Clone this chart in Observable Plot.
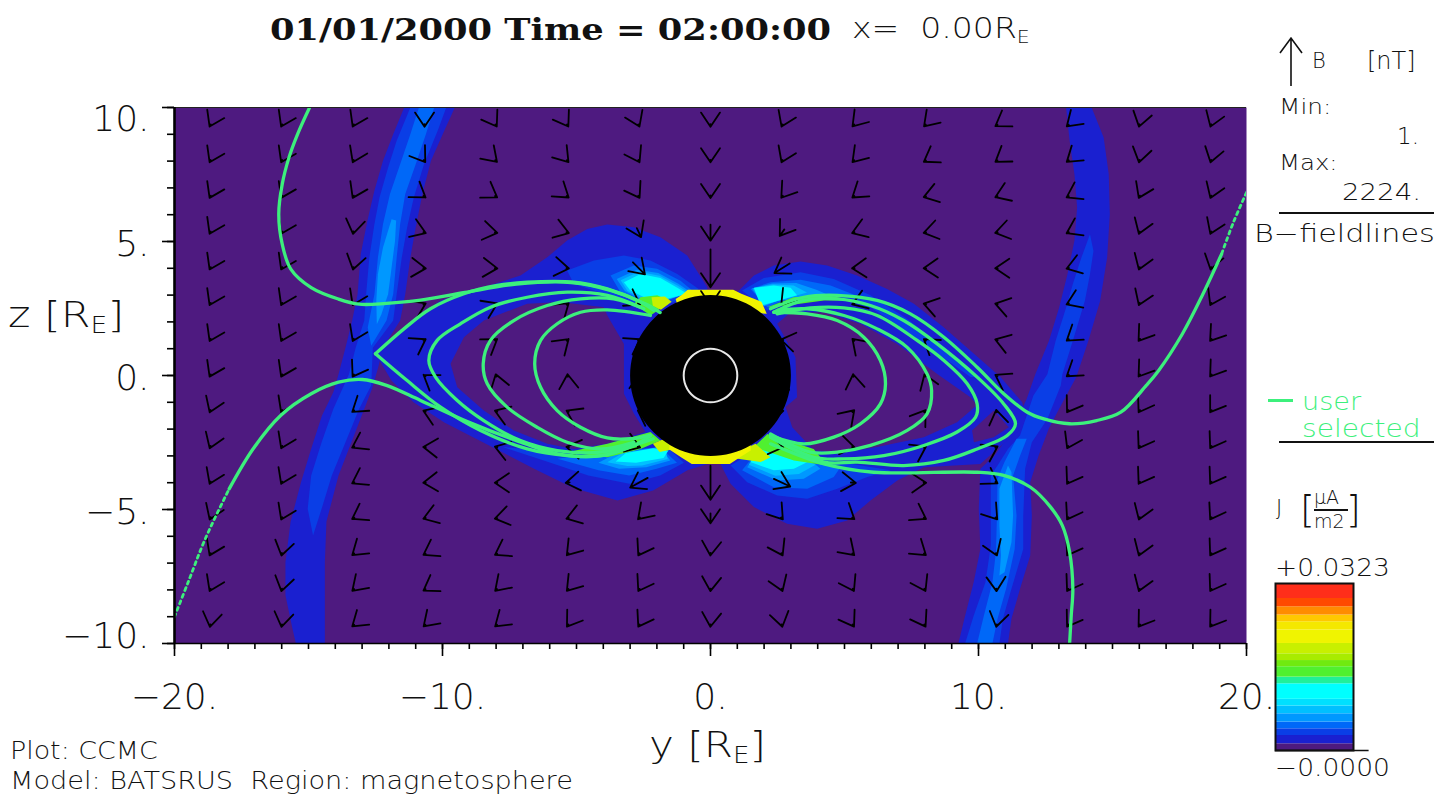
<!DOCTYPE html>
<html>
<head>
<meta charset="utf-8">
<script src="https://cdn.jsdelivr.net/npm/d3@7"></script>
<script src="https://cdn.jsdelivr.net/npm/@observablehq/plot@0.6"></script>
<style>
html,body{margin:0;padding:0;background:#fff;width:1450px;height:799px;overflow:hidden}
#stage{position:relative;width:1450px;height:799px;font-family:"DejaVu Sans",sans-serif;color:#111}
#chart,#bar{position:absolute}
#chart{left:0;top:0}
#bar{left:1265px;top:575px}
.t{position:absolute;white-space:pre;line-height:1;font-weight:200;transform-origin:left top}
sub{font-size:.62em;vertical-align:baseline;position:relative;top:.28em}
.g{color:#3cf07c}
.rule{position:absolute;height:2px;background:#111}
</style>
</head>
<body>
<div id="stage">
  <div id="chart"></div>
  <div id="bar"></div>
  <div class="t" style="left:270px;top:13px;font:bold 29px 'DejaVu Serif',serif;transform:scaleX(1.216)">01/01/2000 Time = 02:00:00</div>
  <div class="t" style="left:852px;top:14px;font-size:29px;transform:scaleX(1.14)">x=  0.00R<sub>E</sub></div>
  <div class="t" style="left:8px;top:297px;font-size:36px;transform:scaleX(1.19)">z [R<sub>E</sub>]</div>
  <div class="t" style="left:649px;top:727px;font-size:36px;transform:scaleX(1.17)">y [R<sub>E</sub>]</div>
  <div class="t" style="left:10px;top:739px;font-size:24px;transform:scaleX(1.12)">Plot: CCMC</div>
  <div class="t" style="left:10px;top:769px;font-size:24px;transform:scaleX(1.13)">Model: BATSRUS  Region: magnetosphere</div>
  <svg style="position:absolute;left:1278px;top:36px" width="26" height="52"><path d="M13 50V2M2 17L13 2L24 17" fill="none" stroke="#111" stroke-width="1.6"/></svg>
  <div class="t" style="left:1312px;top:51px;font-size:21px">B</div>
  <div class="t" style="left:1367px;top:49px;font-size:24px">[nT]</div>
  <div class="t" style="left:1279px;top:97px;font-size:21px;transform:scaleX(1.18)">Min:</div>
  <div class="t" style="left:1397px;top:125px;font-size:23px">1.</div>
  <div class="t" style="left:1279px;top:153px;font-size:21px;transform:scaleX(1.16)">Max:</div>
  <div class="t" style="left:1342px;top:181px;font-size:23px;transform:scaleX(1.2)">2224.</div>
  <div class="rule" style="left:1279px;top:212px;width:155px"></div>
  <div class="t" style="left:1254px;top:221px;font-size:25px;transform:scaleX(1.21)">B−fieldlines</div>
  <div class="rule" style="left:1268px;top:399px;width:25px;height:3px;background:#3cf07c"></div>
  <div class="t g" style="left:1302px;top:390px;font-size:24px;transform:scaleX(1.13)">user</div>
  <div class="t g" style="left:1302px;top:417px;font-size:24px;transform:scaleX(1.17)">selected</div>
  <div class="rule" style="left:1279px;top:441px;width:155px"></div>
  <div class="t" style="left:1276px;top:498px;font-size:21px">J</div>
  <div class="t" style="left:1300px;top:490px;font-size:38px">[</div>
  <div class="t" style="left:1314px;top:488px;font-size:19px">μA</div>
  <div class="rule" style="left:1314px;top:509px;width:34px"></div>
  <div class="t" style="left:1314px;top:512px;font-size:19px">m2</div>
  <div class="t" style="left:1346px;top:490px;font-size:38px">]</div>
  <div class="t" style="left:1275px;top:555px;font-size:25px;transform:scaleX(1.06)">+0.0323</div>
  <div class="t" style="left:1275px;top:755px;font-size:25px;transform:scaleX(1.06)">−0.0000</div>
</div>
<script>
// ---- axes
const yMinorTicks = d3.range(-20, 21);
const yMajorTicks = [-20, -10, 0, 10, 20];
const zMinorTicks = d3.range(-10, 11);
const zMajorTicks = [-10, -5, 0, 5, 10];

// ---- J colour table (colour bar)
const jEdges = [0.0013,0.0029,0.0042,0.0055,0.0071,0.0086,0.0099,0.0129,0.0142,0.0162,0.0174,0.0187,0.0207,0.0233,0.0249,0.0262,0.0278,0.0294];
const jColors = ["#4e1a80","#1a20d0","#0a3ee6","#0068f8","#0098ff","#00c0ff","#00e0ff","#00ffff","#20f09a","#50f030","#70ea10","#a8ec00","#c8f000","#f0f400","#f4e800","#ffc800","#ff8c00","#ff4a00","#ff2e1a"];
const jMax = 0.0323;

// ---- arrow field: direction (deg clockwise from north), rows z=+9.33..-9.33, columns y=-18.67..+18.67
const arrowRowsZ = [9.33,8,6.67,5.33,4,2.67,1.33,0,-1.33,-2.67,-4,-5.33,-6.67,-8,-9.33];
const arrowColsY = [-18.67,-16,-13.33,-10.67,-8,-5.33,-2.67,0,2.67,5.33,8,10.67,13.33,16,18.67];
const arrowDirections = [
 [206,206,206,180,148,148,156,180,204,221,223,237,228,195,200],
 [206,206,205,145,135,140,151,180,204,222,238,235,231,193,196],
 [206,206,206,125,123,128,149,180,217,232,253,248,242,205,201],
 [206,206,190,111,100,108,155,180,215,250,257,257,243,200,203],
 [206,206,194,94,94,98,135,180,238,268,269,270,252,200,195],
 [206,206,205,65,65,50,120,180,220,250,285,285,247,202,207],
 [206,206,205,60,55,48,60,180,280,315,307,288,233,216,217],
 [206,206,212,305,343,355,0,0,10,352,340,300,233,216,216],
 [202,205,232,292,290,297,300,180,80,44,35,350,213,212,214],
 [201,205,242,274,288,280,110,180,100,100,62,62,207,212,212],
 [204,205,241,266,270,262,241,180,115,95,89,122,212,212,212],
 [202,205,240,251,258,252,224,180,142,127,120,142,211,200,211],
 [205,193,230,240,240,220,211,185,152,134,129,159,212,200,212],
 [205,193,226,238,225,220,211,185,159,151,152,178,212,200,212],
 [190,190,230,226,229,215,211,185,167,148,149,192,213,215,215]
];
// arrows with a visible shaft: [row, column, shaft]
const longArrows = [[3,6,10],[3,7,16],[3,8,8],[4,6,17],[4,7,38],[4,8,18],[10,5,4],[10,6,20],[10,7,34],[10,8,18],[10,9,5],[11,7,10]];
const baseShaft = 2.5;

// ---- current density regions, [y,z] in R_E
const sheetWestL1 = [[-11.43,10],[-11.84,9],[-12.22,8.01],[-12.54,6.9],[-12.8,5.78],[-13.05,4.53],[-13.17,3.03],[-13.37,2.05],[-13.62,1.04],[-13.88,.05],[-14.07,-.62],[-14.5,-1.5],[-14.9,-2.73],[-15.28,-3.98],[-15.67,-5.47],[-15.86,-6.97],[-15.86,-8.2],[-15.6,-9.44],[-15.47,-10],[-14.39,-10],[-14.39,-6.97],[-14.33,-5.45],[-13.88,-3.73],[-13.25,-2.11],[-12.63,-.49],[-12.4,.3],[-12.22,1.04],[-11.58,2.05],[-11.39,3.03],[-11.2,4.4],[-11,5.52],[-10.75,6.77],[-10.43,8.01],[-9.93,9.14],[-9.54,10]];
const sheetWestL2 = [[-11.2,10],[-11.71,8.76],[-12.03,7.76],[-12.35,6.64],[-12.54,5.65],[-12.73,4.4],[-12.85,3.03],[-12.92,2.05],[-13.24,1.04],[-13.49,.05],[-14.07,-1.24],[-14.51,-2.49],[-14.9,-3.73],[-15.03,-4.97],[-14.83,-5.97],[-14.51,-4.97],[-14.13,-3.73],[-13.62,-2.49],[-13.11,-1.24],[-12.66,-.37],[-12.6,1.04],[-11.84,2.05],[-11.71,3.03],[-11.52,4.4],[-11.32,5.52],[-11.07,6.64],[-10.69,7.88],[-10.18,9.13],[-9.86,10]];
const sheetWestL3 = [[-10.88,10],[-11.2,9],[-11.58,7.88],[-11.96,6.77],[-12.22,5.65],[-12.41,4.4],[-12.54,3.03],[-12.79,1.79],[-12.66,1.11],[-12.09,2.05],[-11.84,3.03],[-11.71,4.4],[-11.58,5.65],[-11.39,6.77],[-11,7.88],[-10.62,9],[-10.31,10]];
const sheetWestL4 = [[-11.9,5.83],[-12.22,4.78],[-12.41,3.78],[-12.47,2.8],[-12.45,1.91],[-12.28,2.29],[-12.03,3.03],[-11.9,4.03],[-11.77,5.04],[-11.73,5.78]];
const sheetEastL1 = [[13.27,10],[13.4,8.76],[13.58,7.51],[13.68,6.27],[13.58,5.03],[13.32,3.78],[13.01,2.54],[12.63,1.3],[12.12,.05],[11.8,-.87],[11.23,-2.11],[10.59,-2.99],[10.07,-3.48],[10.01,-4.98],[10.07,-6.47],[9.82,-7.71],[9.5,-8.96],[9.25,-10],[11.1,-10],[11.23,-9.08],[11.55,-7.96],[11.93,-6.72],[11.99,-5.22],[11.93,-3.98],[12.24,-2.99],[12.63,-1.97],[13.01,-1.24],[13.65,-.06],[14.1,1.3],[14.54,2.79],[14.8,4.4],[14.9,6.02],[14.86,7.51],[14.67,8.88],[14.22,10]];
const sheetEastL2 = [[14.16,5.27],[13.84,4.4],[13.52,3.41],[13.27,2.54],[12.88,1.3],[12.57,.05],[12.05,-.75],[11.55,-2.24],[11.1,-2.74],[10.71,-3.36],[10.46,-3.73],[10.46,-5.22],[10.46,-6.34],[10.26,-7.71],[9.82,-8.96],[9.5,-10],[10.78,-10],[10.91,-9.08],[11.23,-7.96],[11.67,-6.47],[11.67,-5.22],[11.74,-3.48],[11.99,-2.49],[12.57,-1.62],[13.07,-.37],[13.13,.05],[13.52,1.3],[13.97,2.79],[14.16,3.78],[14.29,4.65]];
const sheetEastL3 = [[11.42,-2.36],[10.97,-3.23],[10.71,-3.85],[10.69,-5.22],[10.65,-6.59],[10.52,-7.71],[10.2,-8.96],[9.95,-10],[10.52,-10],[10.71,-9.08],[11.03,-7.96],[11.35,-6.47],[11.42,-5.22],[11.29,-3.73],[11.55,-2.99],[11.8,-2.36]];
const sheetEastL4 = [[11.1,-3.36],[10.78,-4.23],[10.78,-5.6],[10.84,-6.72],[10.78,-7.46],[10.97,-7.34],[11.23,-6.22],[11.29,-5.22],[11.23,-3.6]];
const westBlobL1 = [[-12.5,.81],[-11.44,1.8],[-10.07,2.8],[-8.46,3.29],[-7.09,3.73],[-6.09,4.41],[-5.35,5.04],[-4.6,5.47],[-3.85,5.63],[-2.86,5.53],[-1.87,5.16],[-.87,4.48],[-.12,3.29],[-.1,0],[-.1,-3.3],[-.86,-3.54],[-2.14,-4.29],[-3.47,-4.66],[-5.12,-4.2],[-6.6,-3.47],[-8.26,-2.61],[-9.93,-1.75],[-11.08,-1],[-11.9,-.2]];
const westPocket = [[-9.7,.44],[-9.2,1.43],[-8.46,2.05],[-6.84,2.68],[-5.6,2.74],[-3.98,2.55],[-3.85,2.24],[-3.23,1.18],[-3.23,.68],[-3.23,-.68],[-2.86,-1.42],[-2.43,-2.11],[-3.85,-2.55],[-5.1,-2.74],[-6.09,-2.55],[-7.34,-2.05],[-8.46,-1.31],[-9.45,-.44]];
const eastBlobL1 = [[1,3.11],[1.62,3.73],[2.36,4.1],[3.36,4.25],[4.35,4.1],[5.47,3.73],[6.59,3.23],[7.59,2.68],[8.7,1.8],[9.83,.81],[10.82,-.06],[11.63,-1],[11.82,-1.8],[10.7,-2.74],[10.07,-3.3],[7.96,-3.42],[6.97,-3.92],[5.97,-4.66],[5.1,-5.41],[3.98,-5.72],[2.86,-5.53],[1.62,-4.91],[.75,-4.04],[.37,-3.3]];
const eastPocket = [[2.49,1.93],[2.99,2.36],[4.23,2.36],[5.6,1.93],[6.97,1.18],[8.46,.06],[9.7,-.81],[9.95,-1.1],[9.2,-1.74],[7.96,-2.3],[6.22,-2.67],[4.98,-2.86],[3.86,-2.8],[3.05,-1.93],[2.8,-1.18],[3.23,-.81],[3.17,.68]];
const eastSmallPocket = [[9.76,-2.05],[10.57,-1.31],[11.13,-1.93],[10.57,-2.3],[9.83,-2.49]];
const nwL2 = [[-5.35,3.92],[-4.35,4.29],[-3.23,4.48],[-2.24,4.29],[-1.24,3.79],[-.44,3.23],[-.87,2.92],[-2.24,2.43],[-3.23,2.8],[-5.1,3.42]];
const nwL3 = [[-3.73,3.73],[-2.86,4.1],[-1.99,3.98],[-1.12,3.54],[-.68,3.17],[-2.24,2.55],[-3.36,3.11]];
const nwL4 = [[-3.5,3.6],[-2.75,3.95],[-1.95,3.82],[-1.2,3.42],[-.75,3.12],[-2.18,2.62],[-3.2,3.15]];
const nwL5 = [[-3.35,3.55],[-2.68,3.87],[-1.9,3.72],[-1.22,3.35],[-.8,3.08],[-2.15,2.68],[-3.1,3.15]];
const nwL6 = [[-3.23,3.48],[-2.61,3.79],[-1.87,3.64],[-1.24,3.27],[-.87,3.05],[-2.11,2.74],[-2.99,3.17]];
const neL2 = [[1.18,3.17],[1.99,3.64],[3.36,3.85],[4.6,3.6],[5.97,2.99],[7.34,2.11],[8.71,1.05],[10.07,-.06],[9.7,-.06],[7.46,1.55],[5.97,2.55],[4.48,3.05],[3.11,2.86],[2.12,2.43]];
const neL3 = [[1.49,3.23],[2.24,3.48],[3.36,3.57],[4.48,3.36],[5.6,2.92],[4.23,2.92],[2.86,2.86],[2.12,2.55]];
const neL4 = [[1.55,3.25],[2.3,3.43],[3.2,3.45],[3.95,3.2],[4.6,2.92],[3.5,2.85],[2.5,2.8],[2,2.58]];
const neL5 = [[1.6,3.26],[2.33,3.4],[3.1,3.36],[3.6,3.1],[2.5,2.78],[1.95,2.6]];
const neL6 = [[1.62,3.27],[2.36,3.36],[2.99,3.27],[3.23,2.99],[2.36,2.74],[1.87,2.61]];
const swL2 = [[-7.75,-2.67],[-5.97,-3.26],[-4.56,-3.73],[-3.03,-4.04],[-1.88,-3.73],[-.99,-3.26],[-1.63,-2.67],[-4.69,-2.92]];
const swL3 = [[-5.71,-3.11],[-4.18,-3.54],[-3.03,-3.73],[-2.01,-3.48],[-1.25,-3.26],[-1.88,-2.67],[-4.69,-2.96]];
const swL4 = [[-4.18,-3.26],[-3.41,-3.48],[-2.4,-3.42],[-1.5,-3.17],[-1.88,-2.67],[-3.54,-2.92]];
const swL5 = [[-3.85,-3.24],[-3.1,-3.38],[-2.55,-3.36],[-1.6,-3.12],[-1.7,-2.7],[-3.3,-2.9]];
const swL6 = [[-3.54,-3.21],[-2.78,-3.26],[-1.75,-3.08],[-1.57,-2.8],[-2.14,-2.71],[-3.16,-2.89]];
const seL2 = [[.75,-3.36],[1.37,-3.98],[2.49,-4.48],[3.61,-4.6],[4.73,-4.23],[5.85,-3.79],[6.72,-3.54],[3.73,-3.05],[1.87,-2.67]];
const seL3 = [[1.18,-3.54],[2.36,-4.17],[3.61,-4.23],[4.6,-3.79],[4.85,-3.42],[3.73,-3.05],[1.87,-2.67]];
const seL4 = [[1.37,-3.42],[2.49,-3.92],[3.48,-3.85],[4.1,-3.48],[3.61,-3.05],[1.87,-2.67]];
const seL5 = [[1.43,-3.33],[2.42,-3.74],[3.3,-3.68],[3.92,-3.33],[3.2,-3],[1.87,-2.67]];
const seL6 = [[1.49,-3.23],[2.36,-3.54],[3.11,-3.48],[3.73,-3.17],[2.86,-2.86],[1.87,-2.67]];
const swGreen = [[-5.35,-2.86],[-3.85,-3.05],[-2.61,-2.74],[-1.87,-2.43],[-2.24,-2.11],[-3.85,-2.55]];
const seGreen = [[2.12,-2.18],[3.85,-2.74],[4.35,-3.36],[3.11,-3.17],[1.62,-2.67]];
const neGreen = [[2.12,2.55],[3.11,2.92],[4.35,2.99],[5.35,2.8],[4.23,2.8],[2.86,2.61]];
const nwGreen = [[-2.61,2.92],[-1.99,2.99],[-1.56,2.8],[-1.87,2.49],[-2.24,2.24],[-2.86,2.67]];
const nwLime = [[-2.2,2.92],[-1.7,2.95],[-1.45,2.75],[-1.85,2.45],[-2.15,2.6]];
const seLime = [[.62,-3.05],[1.68,-2.55],[2.24,-3.05],[1.87,-3.23]];
const swLime = [[-2.15,-2.55],[-1.6,-2.3],[-1.4,-2.75],[-1.9,-2.85]];
const capNorth = [[-.85,3.2],[.85,3.2],[1.15,3.05],[1.9,2.75],[2.1,2.3],[0,2.5],[-1.2,2.5],[-1.3,2.85],[-1.05,3.02]];
const capSouth = [[-.7,-3.3],[.72,-3.3],[1.1,-3.05],[1.5,-2.8],[1.5,-2.3],[0,-2.5],[-1.5,-2.4],[-1.55,-2.75],[-1.1,-3.05]];

const currentRegions = [
 {j:.002, pts:sheetWestL1},{j:.002, pts:sheetEastL1},{j:.002, pts:westBlobL1},{j:.002, pts:eastBlobL1},
 {j:0, pts:westPocket},{j:0, pts:eastPocket},{j:0, pts:eastSmallPocket},
 {j:.0035, pts:sheetWestL2},{j:.0035, pts:sheetEastL2},{j:.0035, pts:nwL2},{j:.0035, pts:neL2},{j:.0035, pts:swL2},{j:.0035, pts:seL2},
 {j:.0048, pts:sheetWestL3},{j:.0048, pts:sheetEastL3},{j:.0048, pts:nwL3},{j:.0048, pts:neL3},{j:.0048, pts:swL3},{j:.0048, pts:seL3},
 {j:.0063, pts:sheetWestL4},{j:.0063, pts:sheetEastL4},{j:.0063, pts:nwL4},{j:.0063, pts:neL4},{j:.0063, pts:swL4},{j:.0063, pts:seL4},
 {j:.0078, pts:nwL5},{j:.0078, pts:neL5},{j:.0078, pts:swL5},{j:.0078, pts:seL5},
 {j:.011, pts:nwL6},{j:.011, pts:neL6},{j:.011, pts:swL6},{j:.011, pts:seL6},
 {j:.015, pts:swGreen},{j:.015, pts:seGreen},{j:.015, pts:neGreen},{j:.015, pts:nwGreen},
 {j:.0197, pts:nwLime},{j:.0197, pts:seLime},{j:.0197, pts:swLime},
 {j:.0225, pts:capNorth},{j:.0225, pts:capSouth}
];

// ---- magnetic field lines, [y,z] in R_E
const lineNW = [[-14.96,10],[-15.41,9],[-15.73,8.13],[-15.98,7.14],[-16.11,6.02],[-15.98,4.9],[-15.66,3.97],[-14.9,3.28],[-13.88,2.85],[-13.11,2.66],[-12.09,2.69],[-10.82,2.81],[-9.16,3.1],[-7.24,3.41],[-5.2,3.47],[-3.67,3.16],[-2.4,2.66],[-1.88,2.35]];
const loopW1Upper = [[-2.11,2.43],[-2.61,2.74],[-3.85,3.23],[-5.1,3.48],[-6.84,3.48],[-7.96,3.36],[-9.2,3.05],[-10.45,2.49],[-11.44,1.74],[-12.5,.81]];
const loopW1Lower = [[-12.5,.81],[-11.32,-.19],[-10.07,-1.18],[-8.58,-2.05],[-6.84,-2.74],[-5.35,-2.99],[-4.1,-2.99],[-2.86,-2.61],[-2.24,-2.24]];
const loopW2 = [[-2.61,2.55],[-3.85,2.99],[-5.35,3.11],[-6.84,2.92],[-8.21,2.55],[-9.33,1.93],[-10.2,1.31],[-10.51,.56],[-10.26,-.06],[-9.45,-.93],[-8.46,-1.68],[-7.09,-2.43],[-5.72,-2.8],[-4.1,-2.86],[-2.86,-2.55]];
const loopW3 = [[-2.49,2.49],[-3.61,2.86],[-4.85,2.86],[-6.09,2.61],[-7.34,2.05],[-8.21,1.31],[-8.48,.44],[-8.33,-.31],[-7.59,-1.18],[-6.47,-1.93],[-5.35,-2.49],[-4.1,-2.74],[-2.86,-2.49]];
const loopW4 = [[-2.24,2.24],[-3.85,2.45],[-4.85,2.36],[-5.72,1.93],[-6.34,1.31],[-6.56,.44],[-6.34,-.44],[-5.72,-1.31],[-4.85,-1.93],[-3.85,-2.33],[-2.99,-2.36],[-2.3,-2.24]];
const lineSWDotted = [[-20,-9],[-19.49,-7.71],[-18.85,-6.09],[-17.96,-4.23]];
const lineSW = [[-17.96,-4.23],[-17.07,-2.74],[-16.04,-1.49],[-14.9,-.68],[-13.88,-.25],[-12.99,-.15],[-12.09,-.37],[-10.82,-.93],[-9.03,-1.74],[-7.24,-2.43],[-5.71,-2.92],[-4.05,-2.99],[-3.03,-2.67],[-2.14,-2.36]];
const lineNEDotted = [[20,6.83],[19.51,5.71],[19.07,4.53]];
const lineNE = [[19.07,4.53],[18.37,3.03],[17.6,1.54],[16.71,.17],[16.26,-.37],[15.31,-1.37],[14.41,-1.68],[13.4,-1.8],[12.44,-1.62],[11.82,-1.37],[10.94,-.68],[9.95,.31],[8.71,1.43],[7.46,2.3],[6.22,2.8],[4.73,2.99],[3.48,2.92],[2.24,2.49]];
const loopE1 = [[2.36,2.36],[3.48,2.8],[4.73,2.86],[5.97,2.61],[7.21,2.05],[8.46,1.18],[9.95,-.06],[10.94,-1.06],[11.38,-1.8],[11.07,-2.24],[9.95,-2.74],[8.71,-3.17],[7.21,-3.36],[5.47,-3.23],[4.23,-3.23],[2.24,-2.3]];
const loopE2 = [[2.49,2.3],[3.73,2.52],[4.98,2.52],[6.22,2.24],[7.71,1.31],[8.71,.56],[9.58,-.31],[9.95,-1.06],[9.89,-1.56],[9.2,-2.11],[7.96,-2.61],[6.47,-2.99],[4.98,-3.11],[3.85,-3.05],[2.24,-2.3]];
const loopE3 = [[2.49,2.43],[3.61,2.49],[4.98,2.24],[6.22,1.74],[7.34,1.05],[8.08,.06],[8.25,-.56],[8.08,-1.43],[7.34,-2.05],[5.97,-2.61],[4.73,-2.86],[3.73,-2.86],[2.24,-2.18]];
const loopE4 = [[2.36,2.36],[3.61,2.3],[4.73,2.05],[5.72,1.43],[6.34,.56],[6.53,-.31],[6.34,-1.06],[5.6,-1.8],[4.6,-2.3],[3.48,-2.55],[2.24,-2.24]];
const lineSE = [[2.24,-2.55],[4.23,-3.3],[6.09,-3.61],[9.95,-3.61],[10.94,-3.73],[11.94,-4.17],[12.69,-4.91],[13.13,-5.6],[13.4,-6.59],[13.52,-7.96],[13.46,-8.96],[13.4,-10]];

const solidLines = [lineNW,loopW1Upper,loopW1Lower,loopW2,loopW3,loopW4,lineSW,lineNE,loopE1,loopE2,loopE3,loopE4,lineSE];
const dottedLines = [lineSWDotted,lineNEDotted];

// ---- Earth
const ringAngles = d3.range(0, 360, 15);
const bodyRadius = 3;
const earthRadius = 1;

const flatten = (list, get) => list.flatMap((item, id) => get(item).map(([y, z]) => ({id, y, z, j: item.j})));
const regionPoints = flatten(currentRegions, r => r.pts);
const solidPoints = flatten(solidLines, l => l);
const dottedPoints = flatten(dottedLines, l => l);
const ring = r => ringAngles.map(a => ({y: r * Math.cos(a * Math.PI / 180), z: r * Math.sin(a * Math.PI / 180)}));

const arrows = arrowRowsZ.flatMap((z, row) => arrowColsY.map((y, col) => {
  const long = longArrows.find(a => a[0] === row && a[1] === col);
  return {y, z, dir: arrowDirections[row][col], len: long ? long[2] : baseShaft};
}));

const headShape = {
  draw(context, l) {
    const arm = 17, half = 34 * Math.PI / 180;
    const wx = arm * Math.sin(half), wy = arm * Math.cos(half);
    context.moveTo(0, 0);
    context.lineTo(0, -l);
    context.moveTo(-wx, -l + wy);
    context.lineTo(0, -l);
    context.lineTo(wx, -l + wy);
  }
};

const colorScale = {type: "threshold", domain: jEdges, range: jColors};
const dot = d => (d < 0 ? "−" + (-d) : "" + d) + ".";
const blank = () => "";
const tickFont = {fontSize: 36, fontFamily: "DejaVu Sans", fontWeight: 200};

const chart = Plot.plot({
  width: 1450, height: 799,
  marginLeft: 174, marginRight: 204, marginTop: 107, marginBottom: 156,
  style: {background: "transparent", overflow: "visible"},
  x: {domain: [-20, 20], axis: null},
  y: {domain: [-10, 10], axis: null},
  color: colorScale,
  marks: [
    Plot.frame({fill: jColors[0], stroke: "none"}),
    Plot.line(regionPoints, {x: "y", y: "z", z: "id", fill: "j", stroke: "none", curve: "linear-closed", clip: true}),
    Plot.vector(arrows, {x: "y", y: "z", rotate: "dir", length: {value: "len", scale: null}, shape: headShape, anchor: "middle", stroke: "#000", strokeWidth: 1.8, fill: "none"}),
    Plot.line(ring(bodyRadius), {x: "y", y: "z", fill: "#000", stroke: "none", curve: "catmull-rom-closed"}),
    Plot.line(ring(earthRadius), {x: "y", y: "z", fill: "none", stroke: "#e8e8e8", strokeWidth: 2, curve: "catmull-rom-closed"}),
    Plot.line(solidPoints, {x: "y", y: "z", z: "id", stroke: "#3cf07c", strokeWidth: 3.3, curve: "catmull-rom", clip: true}),
    Plot.line(dottedPoints, {x: "y", y: "z", z: "id", stroke: "#3cf07c", strokeWidth: 2.8, strokeDasharray: "3 4", curve: "catmull-rom", clip: true}),
    Plot.ruleY([10], {stroke: "#222", strokeWidth: 1}),
    Plot.ruleY([-10], {stroke: "#000", strokeWidth: 1.6}),
    Plot.ruleX([-20], {stroke: "#000", strokeWidth: 2.6}),
    Plot.axisX(yMinorTicks, {tickSize: 6, tickFormat: blank, label: null, stroke: "#000", strokeWidth: 1.6}),
    Plot.axisX(yMajorTicks, {tickSize: 13, tickPadding: 27, tickFormat: dot, label: null, stroke: "#000", strokeWidth: 1.6, fill: "#111", ...tickFont}),
    Plot.axisY(zMinorTicks, {tickSize: 7, tickFormat: blank, label: null, stroke: "#000", strokeWidth: 1.6}),
    Plot.axisY(zMajorTicks, {tickSize: 12, tickFormat: blank, label: null, stroke: "#000", strokeWidth: 1.6}),
    Plot.axisY([5, 0, -5], {tickSize: 0, tickPadding: 25, dy: 3, tickFormat: dot, label: null, fill: "#111", ...tickFont}),
    Plot.axisY([10], {tickSize: 0, tickPadding: 25, dy: 12, tickFormat: dot, label: null, fill: "#111", ...tickFont}),
    Plot.axisY([-10], {tickSize: 0, tickPadding: 25, dy: -7, tickFormat: dot, label: null, fill: "#111", ...tickFont})
  ]
});
document.getElementById("chart").append(chart);

// ---- colour bar
const barEdges = [0, ...jEdges, jMax];
const barCells = jColors.map((c, i) => ({j1: barEdges[i], j2: barEdges[i + 1], mid: (barEdges[i] + barEdges[i + 1]) / 2}));
const bar = Plot.plot({
  width: 104, height: 185,
  marginLeft: 10, marginRight: 16, marginTop: 8, marginBottom: 10,
  style: {background: "transparent"},
  x: {domain: [0, 1], axis: null},
  y: {domain: [0, jMax], axis: null},
  color: colorScale,
  marks: [
    Plot.rect(barCells, {x1: 0, x2: 1, y1: "j1", y2: "j2", fill: "mid", inset: 0}),
    Plot.frame({stroke: "#111", strokeWidth: 2}),
    Plot.ruleY([0], {x1: 0, x2: 1.2, stroke: "#111", strokeWidth: 1.6, clip: false})
  ]
});
document.getElementById("bar").append(bar);
</script>
</body>
</html>
